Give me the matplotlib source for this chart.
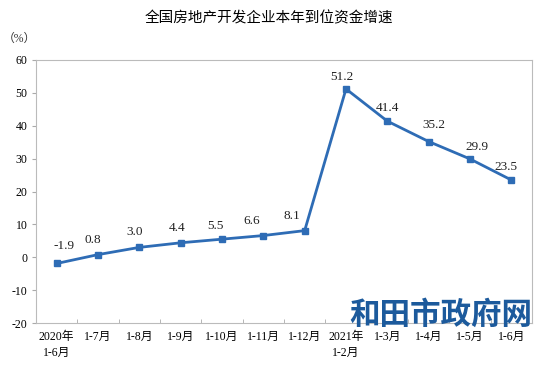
import matplotlib.pyplot as plt
import numpy as np

plt.rcParams['font.family'] = ['Liberation Serif', 'Noto Sans CJK SC']
plt.rcParams['axes.unicode_minus'] = False

months = ['2020年\n1-6月', '1-7月', '1-8月', '1-9月', '1-10月', '1-11月', '1-12月',
          '2021年\n1-2月', '1-3月', '1-4月', '1-5月', '1-6月']
growth = [-1.9, 0.8, 3.0, 4.4, 5.5, 6.6, 8.1, 51.2, 41.4, 35.2, 29.9, 23.5]

# label nudges in pixels (as placed in the original)
label_dx = [7, -5, -5, -4, -7, -12, -13, -4, 0, 5, 7, -5]
label_dy = [17, 15, 15, 15, 13, 15, 15, 12, 13, 17, 12, 13]

fig = plt.figure(figsize=(5.52, 3.65), dpi=100)
ax = fig.add_axes([36 / 552, 1 - 323 / 365, 496 / 552, 263 / 365])

x = np.arange(len(growth))
ax.plot(x, growth, color='#2e6cb5', linewidth=2, marker='s', markersize=4)
for xi, v, dx, dy in zip(x, growth, label_dx, label_dy):
    ax.annotate(f'{v:.1f}', (xi, v), xytext=(dx, dy), textcoords='offset pixels',
                ha='center', va='center', fontsize=9.5, color='#222222')

ax.set_xlim(-0.5, len(growth) - 0.5)
ax.set_ylim(-20, 60)
ax.set_yticks(range(-20, 61, 10))
ax.set_xticks(x)
ax.set_xticklabels(months, fontsize=8.5, linespacing=1.4)
ax.set_xticks(np.arange(0.5, len(growth) - 1, 1), minor=True)
ax.tick_params(axis='x', which='major', length=0, pad=6)
ax.tick_params(axis='x', which='minor', length=3, direction='in', color='#aaaaaa')
ax.tick_params(axis='y', labelsize=8.5, length=3, color='#aaaaaa', pad=3)
for s in ax.spines.values():
    s.set_color('#bbbbbb')
    s.set_linewidth(0.8)

fig.text(269 / 552, 1 - 18 / 365, '全国房地产开发企业本年到位资金增速',
         ha='center', va='center', fontsize=10.5, family=['Noto Sans CJK SC'])
fig.text(3 / 552, 1 - 39 / 365, '（%）', ha='left', va='center', fontsize=8.5,
         color='#333333')
fig.text(441 / 552, 1 - 315 / 365, '和田市政府网', ha='center', va='center',
         fontsize=22, fontweight='bold', color='#1c5a9c', family=['Noto Sans CJK SC'])

fig.savefig('out.png', dpi=100)
